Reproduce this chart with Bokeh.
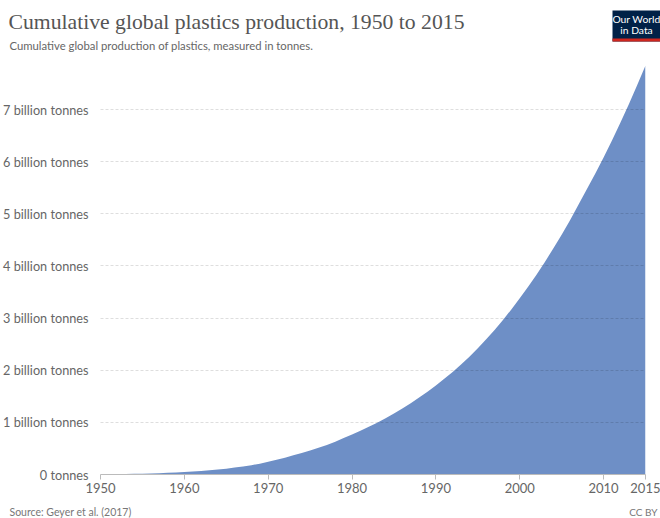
from bokeh.plotting import figure
from bokeh.layouts import column
from bokeh.models import Range1d, FixedTicker
from bokeh.core.properties import value
from bokeh.embed import file_html
from bokeh.resources import INLINE

years = list(range(1950, 2016))
cumulative_tonnes = [
    2e6, 4e6, 6e6, 9e6, 12e6, 16e6, 21e6, 26e6, 32e6, 39e6,
    47e6, 56e6, 67e6, 80e6, 95e6, 112e6, 132e6, 154e6, 179e6, 208e6,
    243e6, 281e6, 323e6, 368e6, 414e6, 461e6, 511e6, 566e6, 628e6, 698e6,
    768e6, 840e6, 915e6, 995e6, 1080e6, 1171e6, 1267e6, 1369e6, 1477e6, 1588e6,
    1708e6, 1835e6, 1968e6, 2111e6, 2261e6, 2423e6, 2593e6, 2774e6, 2964e6, 3167e6,
    3380e6, 3600e6, 3832e6, 4077e6, 4336e6, 4599e6, 4879e6, 5175e6, 5472e6, 5770e6,
    6083e6, 6408e6, 6746e6, 7098e6, 7465e6, 7846e6,
]
x_ticks = [1950, 1960, 1970, 1980, 1990, 2000, 2010, 2015]
y_ticks = [0, 1e9, 2e9, 3e9, 4e9, 5e9, 6e9, 7e9]
y_tick_labels = ["0 tonnes", "1 billion tonnes", "2 billion tonnes", "3 billion tonnes",
                 "4 billion tonnes", "5 billion tonnes", "6 billion tonnes", "7 billion tonnes"]

title = "Cumulative global plastics production, 1950 to 2015"
subtitle = "Cumulative global production of plastics, measured in tonnes."
source = "Source: Geyer et al. (2017)"
license_text = "CC BY"
logo_lines = ["Our World", "in Data"]

W = 660
HEAD_H, MAIN_H, FOOT_H = 60, 440, 18
FL, FR, FT, FB = 100, 645, 65, 474  # frame edges in page pixels


def panel(h):
    f = figure(width=W, height=h, output_backend="svg", toolbar_location=None,
               x_range=Range1d(0, W), y_range=Range1d(h, 0),
               x_axis_location=None, y_axis_location=None, title_location=None,
               min_border=0, min_border_left=0, min_border_right=0,
               min_border_top=0, min_border_bottom=0, frame_align=False)
    f.outline_line_color = None
    f.grid.grid_line_color = None
    return f


# header
head = panel(HEAD_H)
head.text(x=[8], y=[21.5], text=[title], text_font=value("Liberation Serif"),
          text_font_size="21.7px", text_color="#555555", text_baseline="middle")
head.text(x=[9], y=[44.5], text=[subtitle], text_font=value("Lato"),
          text_font_size="11.3px", text_color="#666666", text_baseline="middle")
head.quad(left=[612], right=[660], top=[10], bottom=[41], fill_color="#002147", line_color=None)
head.quad(left=[612], right=[660], top=[38], bottom=[41], fill_color="#ce261e", line_color=None)
head.text(x=[636, 636], y=[18.5, 29.5], text=logo_lines, text_font=value("Lato"),
          text_font_size="10.3px", text_color="white", text_align="center",
          text_baseline="middle")

# main chart
p = figure(width=W, height=MAIN_H, output_backend="svg", toolbar_location=None,
           x_range=Range1d(years[0], years[-1]),
           y_range=Range1d(0, max(cumulative_tonnes)),
           title_location=None,
           min_border_left=FL, min_border_right=W - FR,
           min_border_top=FT - HEAD_H, min_border_bottom=HEAD_H + MAIN_H - FB,
           frame_align=False)
p.outline_line_color = None

p.varea(x=years, y1=0, y2=cumulative_tonnes, fill_color="#6e8fc6")

p.xgrid.grid_line_color = None
p.ygrid.ticker = FixedTicker(ticks=y_ticks)
p.ygrid.grid_line_color = "black"
p.ygrid.grid_line_alpha = 0.13
p.ygrid.grid_line_dash = "3 2"
p.ygrid.level = "overlay"

p.xaxis.ticker = FixedTicker(ticks=x_ticks)
p.xaxis.axis_line_color = "#bbbbbb"
p.xaxis.major_tick_line_color = "#bbbbbb"
p.xaxis.major_tick_out = 5
p.xaxis.major_tick_in = 0
p.xaxis.minor_tick_line_color = None
p.xaxis.major_label_standoff = 3
p.xaxis.major_label_text_font = "Lato"
p.xaxis.major_label_text_font_size = "13px"
p.xaxis.major_label_text_color = "#666666"

p.yaxis.ticker = FixedTicker(ticks=y_ticks)
p.yaxis.major_label_overrides = {t: l for t, l in zip(y_ticks, y_tick_labels)}
p.yaxis.axis_line_color = None
p.yaxis.major_tick_line_color = None
p.yaxis.minor_tick_line_color = None
p.yaxis.major_label_standoff = 6
p.yaxis.major_label_text_font = "Lato"
p.yaxis.major_label_text_font_size = "12.7px"
p.yaxis.major_label_text_color = "#666666"

# footer
foot = panel(FOOT_H)
foot.text(x=[9], y=[11], text=[source], text_font=value("Lato"),
          text_font_size="10.5px", text_color="#777777", text_baseline="middle")
foot.text(x=[657], y=[11], text=[license_text], text_font=value("Lato"),
          text_font_size="10px", text_color="#777777", text_align="right",
          text_baseline="middle")

layout = column(head, p, foot, spacing=0)
open("out.html", "w").write(file_html(layout, INLINE))
